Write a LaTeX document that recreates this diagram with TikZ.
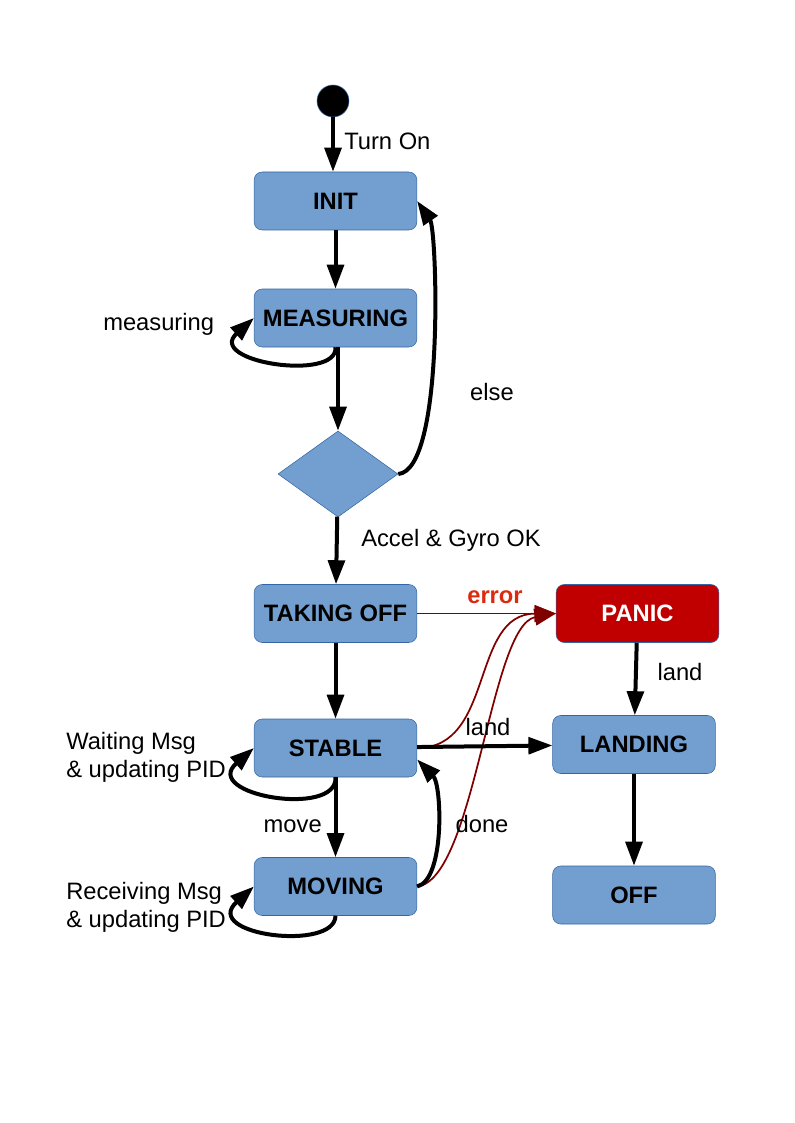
\documentclass[tikz,border=0pt]{standalone}
\usepackage{fontspec}
\setmainfont{Liberation Sans}
\usetikzlibrary{arrows.meta,positioning,shapes.geometric}
\definecolor{stfill}{HTML}{729FCF}
\definecolor{stline}{HTML}{3465A4}
\definecolor{panicred}{HTML}{C00000}
\definecolor{errred}{HTML}{DD2A0E}
\definecolor{darkred}{HTML}{800000}
\newcommand{\lblfont}{\fontsize{17.8}{20.3}\selectfont}
\tikzset{state/.style={draw=stline,fill=stfill,rounded corners=6pt,minimum width=122pt,
  minimum height=43.5pt,font=\lblfont\bfseries},
  note/.style={inner sep=0pt,font=\lblfont,align=left},
  flow/.style={-{Triangle[length=18pt,width=12.5pt]},line width=3pt},
  fault/.style={-{Triangle[length=16pt,width=12.5pt]},line width=1.3pt,draw=darkred}}

\begin{document}
\begin{tikzpicture}[x=0.75pt,y=-0.75pt]
\useasboundingbox (0,0) rectangle (794,1123);
\node[circle,fill=black,draw=stline,minimum size=24pt,inner sep=0pt] (start) at (333,101) {};
\node[state] (init) at (335.5,201) {INIT};
\node[state] (measuring) at (335.5,318) {MEASURING};
\node[diamond,draw=stline,fill=stfill,minimum width=90pt,minimum height=64.5pt,inner sep=0pt] (check) at (338,474) {};
\node[state] (takeoff) at (335.5,613.5) {TAKING OFF};
\node[state,fill=panicred,text=white] (panic) at (637.5,613.5) {PANIC};
\node[state] (stable) at (335.5,748) {STABLE};
\node[state] (landing) at (634,744.5) {LANDING};
\node[state] (moving) at (335.5,886.5) {MOVING};
\node[state] (off) at (634,895) {OFF};

\draw[flow] (start) -- (start |- init.north);
\draw[flow] (init) -- (measuring);
\draw[flow] (measuring.south -| check.north) -- (check.north);
\draw[flow] (measuring.south) .. controls (338,382) and (205,362) .. (measuring.west);
\draw[flow] (check.east) .. controls (445,470) and (437,230) .. (init.east);
\draw[flow] (check) -- (takeoff);
\draw[flow] (takeoff) -- (stable);
\draw[fault] (takeoff) -- (panic);
\draw[fault] (stable.east) .. controls (495,748) and (470,614) .. (panic.west);
\draw[fault] (moving.east) .. controls (475,880) and (490,625) .. (panic.west);
\draw[flow] (stable) -- (landing);
\draw[flow] (stable.south) .. controls (338,818) and (200,795) .. (stable.west);
\draw[flow] (stable) -- (moving);
\draw[flow] (moving.east) .. controls (445,880) and (442,785) .. (stable.-8);
\draw[flow] (moving.south) .. controls (335,952) and (200,935) .. (moving.west);
\draw[flow] (panic) -- (landing);
\draw[flow] (landing) -- (off);

\node[note,anchor=base west] (turnon) at (344,150) {Turn On};
\node[note,anchor=base west] (measlbl) at (103,330) {measuring};
\node[note,anchor=base] (elselbl) at (492,400) {else};
\node[note,anchor=base west] (oklbl) at (361,546) {Accel \& Gyro OK};
\node[note,anchor=base,text=errred,font=\lblfont\bfseries] (errlbl) at (495,603) {error};
\node[note,anchor=base] (landlbl) at (488,735) {land};
\node[note,anchor=base] (panlandlbl) at (680,680) {land};
\node[note,anchor=base west] (waitlbl) at (66,777) {Waiting Msg\\\& updating PID};
\node[note,anchor=base east] (movelbl) at (322,832) {move};
\node[note,anchor=base] (donelbl) at (482,832) {done};
\node[note,anchor=base west] (recvlbl) at (66,927) {Receiving Msg\\\& updating PID};
\end{tikzpicture}
\end{document}
